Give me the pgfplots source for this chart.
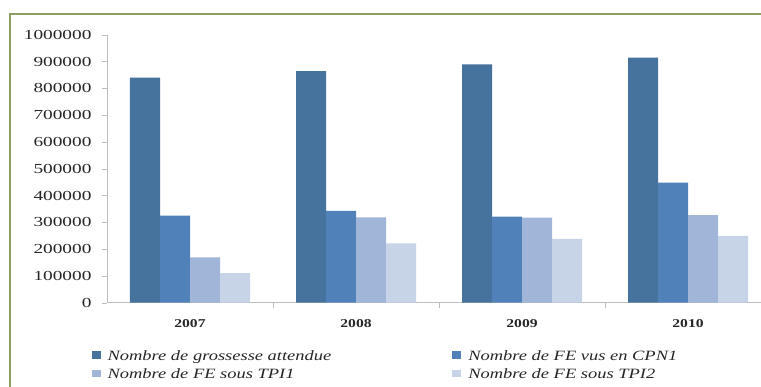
\documentclass[border=0pt]{standalone}
\usepackage{fontspec}
\setmainfont{Liberation Serif}[FakeStretch=1.3]
\newfontfamily\tickfont{Liberation Serif}[FakeStretch=1.4]
\usepackage{pgfplots}
\pgfplotsset{compat=1.18}
\definecolor{cA}{RGB}{70,114,158}
\definecolor{cB}{RGB}{80,130,185}
\definecolor{cC}{RGB}{160,181,215}
\definecolor{cD}{RGB}{199,211,231}
\definecolor{frame}{RGB}{138,160,98}
\definecolor{axgray}{RGB}{190,190,190}
\begin{document}
\begin{tikzpicture}
\path[use as bounding box] (0pt,0pt) rectangle (761pt,387pt);
\clip (0pt,0pt) rectangle (761pt,387pt);
\draw[line width=2.8pt, frame] (10pt,-20pt) rectangle (800pt,373pt);
\begin{axis}[
  at={(107pt,84.3pt)}, anchor=south west,
  scale only axis, width=664pt, height=268pt,
  ybar=0pt, bar width=30pt,
  xmin=-0.5, xmax=3.5, ymin=0, ymax=1000000,
  scaled y ticks=false,
  axis x line*=bottom, axis y line*=left,
  axis line style={axgray, -}, 
  xtick={0,1,2,3}, xticklabels={2007,2008,2009,2010},
  major x tick style={draw=none},
  minor xtick={0.5,1.5,2.5},
  minor x tick style={axgray},
  ytick={0,100000,...,1000000},
  yticklabels={0,100000,200000,300000,400000,500000,600000,700000,800000,900000,1000000},
  y tick style={axgray},
  tick align=outside, major tick length=5pt, minor tick length=5pt,
  /pgf/number format/assume math mode=true,
  yticklabel style={font=\fontsize{13.8}{15}\tickfont, text=black!85, xshift=-7pt},
  xticklabel style={font=\fontsize{12}{14}\selectfont\bfseries, text=black!85, yshift=-8pt},
  legend columns=2,
  legend style={at={(-0.028,-0.162)}, anchor=north west, draw=none, fill=none,
    font=\fontsize{14.2}{15}\itshape, text=black!85,
    /tikz/every even column/.append style={column sep=119pt},
    row sep=3pt},
  legend cell align=left,
  legend image code/.code={\fill[#1] (0pt,-3pt) rectangle (9pt,4.5pt); \path (14pt,0pt);},
]
\addplot[fill=cA, draw=none] coordinates {(0,840000) (1,864000) (2,889000) (3,914000)};
\addplot[fill=cB, draw=none] coordinates {(0,325000) (1,343000) (2,321000) (3,448000)};
\addplot[fill=cC, draw=none] coordinates {(0,169000) (1,318000) (2,317000) (3,327000)};
\addplot[fill=cD, draw=none] coordinates {(0,110000) (1,221000) (2,238000) (3,249000)};
\legend{Nombre de grossesse attendue, Nombre de FE vus en CPN1, Nombre de FE sous TPI1, Nombre de FE sous TPI2}
\end{axis}
\end{tikzpicture}
\end{document}
